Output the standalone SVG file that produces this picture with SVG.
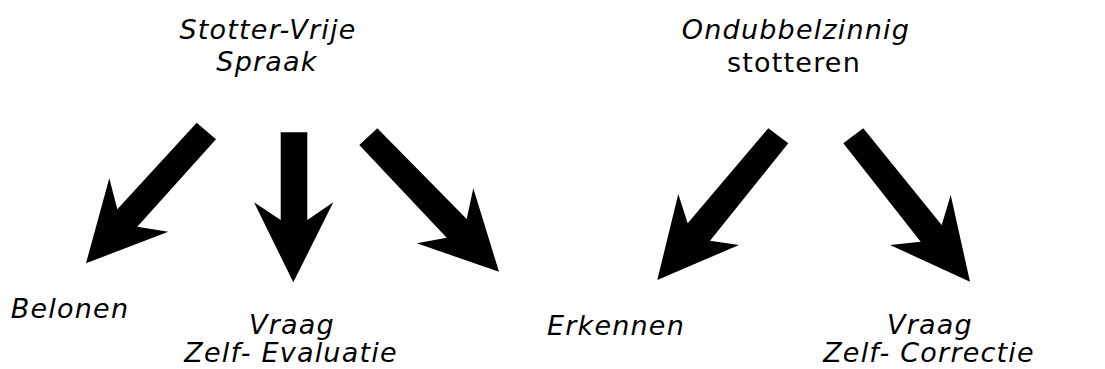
<svg xmlns="http://www.w3.org/2000/svg" width="1105" height="369" viewBox="0 0 1105 369">
  <style>
    .lbl { font-family: "DejaVu Sans", Verdana, sans-serif; font-size: 27px; letter-spacing: 1.2px; fill: #000; text-anchor: middle; }
    .it { font-style: italic; }
    .arrow { fill: #000; stroke: none; }
  </style>
  <rect width="1105" height="369" fill="#fff"/>

  <!-- source headings -->
  <g id="stotter-vrije-spraak">
    <text class="lbl it" x="268" y="39">Stotter-Vrije</text>
    <text class="lbl it" x="267" y="71">Spraak</text>
  </g>
  <g id="ondubbelzinnig-stotteren">
    <text class="lbl it" x="796" y="39">Ondubbelzinnig</text>
    <text class="lbl" x="794" y="72">stotteren</text>
  </g>

  <!-- target labels -->
  <g id="belonen">
    <text class="lbl it" x="70" y="318">Belonen</text>
  </g>
  <g id="vraag-zelf-evaluatie">
    <text class="lbl it" x="292" y="334">Vraag</text>
    <text class="lbl it" x="291" y="362">Zelf- Evaluatie</text>
  </g>
  <g id="erkennen">
    <text class="lbl it" x="616" y="335">Erkennen</text>
  </g>
  <g id="vraag-zelf-correctie">
    <text class="lbl it" x="930" y="334">Vraag</text>
    <text class="lbl it" x="929" y="362">Zelf- Correctie</text>
  </g>

  <!-- block arrows -->
  <g id="connectors">
    <polygon class="arrow" points="196.7,122.7 216,139.3 137.3,226.7 168.3,231.7 86,263.3 109.3,178.3 117.3,209.3"/>
    <polygon class="arrow" points="280.7,132.3 307.3,132.3 307.3,220 333.3,202.3 293.3,282.3 254,202.3 280.7,220"/>
    <polygon class="arrow" points="377.3,128.3 466.7,219 473.3,188.3 499,271.7 416.7,243.3 446.7,237.7 359.3,145"/>
    <polygon class="arrow" points="768.3,128.3 788.3,143.3 710,240.7 739,245 657.3,280 678.3,194 687.7,223.3"/>
    <polygon class="arrow" points="863.3,128.3 941.7,225 950.7,195 970,281.7 890,245 920.7,241.7 843.3,143.3"/>
  </g>
</svg>
